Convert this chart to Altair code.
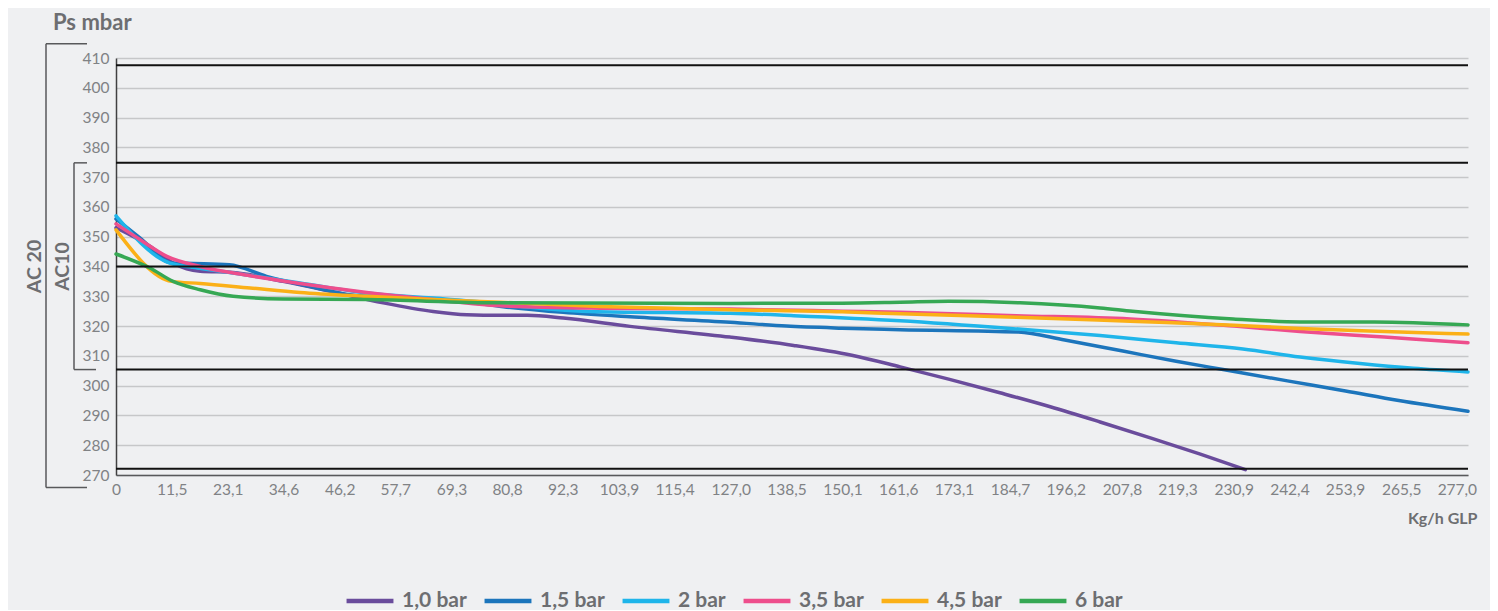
import altair as alt
import pandas as pd

# ---------------- data ----------------
series_names = ["1,0 bar", "1,5 bar", "2 bar", "3,5 bar", "4,5 bar", "6 bar"]
series_colors = ["#6a4c9c", "#1c75bc", "#1fb5ea", "#ee4e8c", "#fbb017", "#36a854"]

x_10 = [0, 7, 11.8, 14.6, 17.4, 24.2, 34.5, 44.8, 55.2, 65.5, 72.5, 79.3, 85, 92.4, 106.2, 126.9, 140, 152, 162, 172, 182.6, 193, 203.3, 214, 224, 233.3]
y_10 = [353, 346.8, 341.2, 339.2, 338.4, 338, 335, 331.5, 327.8, 324.9, 323.8, 323.6, 323.6, 322.7, 319.9, 316.3, 313.5, 310.2, 306.3, 302.2, 297.6, 292.9, 287.8, 282.3, 277, 271.8]

x_15 = [0, 5, 11.5, 16, 23.4, 31.1, 41.5, 48.3, 58, 70, 80, 92.4, 106.2, 126.9, 138.5, 150, 162, 186.4, 196, 208, 219, 228.7, 242, 254, 265, 279.3]
y_15 = [356, 349.5, 341.2, 341, 340.6, 336.7, 332.8, 330.5, 329.5, 328.5, 326.5, 324.6, 323.1, 321.3, 320, 319.3, 318.8, 318, 315.3, 311.6, 308.2, 305.4, 301.6, 298.2, 295, 291.4]

x_2 = [0, 11, 17, 24.2, 38, 51.8, 65.5, 79.3, 85.5, 99.4, 126.9, 140, 162, 186.4, 203.3, 219, 232.8, 244.6, 257, 268, 279.3]
y_2 = [357, 341.2, 339.5, 337.8, 334.5, 331.1, 329.4, 327.5, 326.3, 324.8, 324.3, 323.5, 321.8, 319, 316.8, 314.4, 312.3, 309.6, 307.4, 305.8, 304.6]

x_35 = [0, 5, 10.5, 17.4, 27.7, 38, 51.8, 65.5, 79.3, 100, 126.9, 150, 162, 186, 209.5, 231, 244.6, 262, 279.3]
y_35 = [354.3, 349, 343.4, 340, 336.9, 334.3, 331.3, 328.9, 326.8, 326, 325.7, 325, 324.6, 323.5, 322.4, 320, 318.2, 316.3, 314.4]

x_45 = [0, 11.5, 17.4, 27.7, 38, 51.8, 65.5, 79.3, 100, 126.9, 150, 162, 186, 209.5, 231, 244.6, 262, 279.3]
y_45 = [352.3, 335, 334.3, 332.8, 331.3, 330, 328.9, 328, 326.6, 325.5, 324.8, 324.1, 323, 321.6, 320.3, 319.2, 318.2, 317.3]

x_6 = [0, 7, 11.8, 17.4, 24.2, 34.5, 51.8, 79.3, 127, 150, 162, 172, 186.8, 203.3, 210, 230.8, 244.6, 260, 279.3]
y_6 = [344.2, 339.5, 335, 332.2, 330, 329.1, 328.9, 327.8, 327.6, 327.7, 328, 328.3, 327.8, 326.1, 325, 322.4, 321.4, 321.4, 320.4]

x_ticks = [0, 11.5, 23.1, 34.6, 46.2, 57.7, 69.3, 80.8, 92.3, 103.9, 115.4, 127.0, 138.5,
           150.1, 161.6, 173.1, 184.7, 196.2, 207.8, 219.3, 230.9, 242.4, 253.9, 265.5, 277.0]
y_ticks = [270, 280, 290, 300, 310, 320, 330, 340, 350, 360, 370, 380, 390, 400, 410]
ref_levels = [407.6, 374.8, 340, 305.4, 272.1]
ac20_range = [265.8, 414.8]
ac10_range = [305.4, 374.8]

# ---------------- build table ----------------
all_x = [x_10, x_15, x_2, x_35, x_45, x_6]
all_y = [y_10, y_15, y_2, y_35, y_45, y_6]
rows = []
for name, xs, ys in zip(series_names, all_x, all_y):
    for xv, yv in zip(xs, ys):
        rows.append({"serie": name, "x": xv, "y": yv})
df = pd.DataFrame(rows)

GRAY = "#6d6e71"
LABEL_GRAY = "#808285"
FONT = "Lato"

xscale = alt.Scale(domain=[0, 279.3], nice=False, zero=True)
yscale = alt.Scale(domain=[270, 410], nice=False, zero=False)

y_axis = alt.Axis(values=y_ticks, grid=True, gridColor="#c6c7c9", gridWidth=1.3,
                  ticks=False, labelOverlap=False, labelFont=FONT, labelFontSize=15.5,
                  labelColor=LABEL_GRAY, labelPadding=7, domainColor="#414042",
                  domainWidth=1.5, title=None)

lines = alt.Chart(df).mark_line(
    strokeWidth=3.5, interpolate="monotone", strokeCap="round", strokeJoin="round"
).encode(
    x=alt.X("x:Q", scale=xscale,
            axis=alt.Axis(values=x_ticks, grid=False, ticks=False, labelOverlap=False,
                          labelExpr="datum.value == 0 ? '0' : replace(format(datum.value, '.1f'), '.', ',')",
                          labelFont=FONT, labelFontSize=15.5, labelColor=LABEL_GRAY, labelPadding=7,
                          domainColor="#58595b", domainWidth=1.5,
                          title="Kg/h GLP", titleFont=FONT, titleFontSize=16, titleFontWeight="bold",
                          titleColor=GRAY, titleAnchor="end", titleAlign="right",
                          titleX=1361, titleY=43, titleBaseline="middle", labelFlush=False)),
    y=alt.Y("y:Q", scale=yscale, axis=y_axis),
    color=alt.Color("serie:N", sort=series_names,
                    scale=alt.Scale(domain=series_names, range=series_colors),
                    legend=alt.Legend(title=None, orient="none", legendX=228, legendY=517,
                                      direction="horizontal", columns=6,
                                      symbolType="stroke", symbolSize=2200, symbolStrokeWidth=4.5,
                                      labelFont=FONT, labelFontSize=21, labelFontWeight="bold",
                                      labelColor=GRAY, columnPadding=8, labelOffset=6)),
)

refs = alt.Chart(pd.DataFrame({"level": ref_levels})).mark_rule(
    color="#111111", strokeWidth=2
).encode(y=alt.Y("level:Q", scale=yscale, axis=y_axis))

one = pd.DataFrame({"k": [0]})
BR = "#58595b"


def vseg(xpx, y1, y2):
    return alt.Chart(one).mark_rule(color=BR, strokeWidth=1.5).encode(
        x=alt.value(xpx), y=alt.YDatum(y1, axis=y_axis), y2=alt.datum(y2))


def hseg(x1, x2, yv):
    return alt.Chart(one).mark_rule(color=BR, strokeWidth=1.5).encode(
        x=alt.value(x1), x2=alt.value(x2), y=alt.YDatum(yv, axis=y_axis))


brackets = [
    vseg(-70, ac20_range[0], ac20_range[1]),
    hseg(-70, -29, ac20_range[1]),
    hseg(-70, -29, ac20_range[0]),
    vseg(-42, ac10_range[0], ac10_range[1]),
    hseg(-42, -29, ac10_range[1]),
    hseg(-42, -20, ac10_range[0]),
]

ac20_text = alt.Chart(one).mark_text(
    angle=270, font=FONT, fontSize=19.5, fontWeight="bold", color=GRAY, align="center", baseline="middle"
).encode(x=alt.value(-81), y=alt.YDatum(340, axis=y_axis), text=alt.value("AC 20"))

ac10_text = alt.Chart(one).mark_text(
    angle=270, font=FONT, fontSize=19.5, fontWeight="bold", color=GRAY, align="center", baseline="middle"
).encode(x=alt.value(-53), y=alt.YDatum(340, axis=y_axis), text=alt.value("AC10"))

title_text = alt.Chart(one).mark_text(
    font=FONT, fontSize=22, fontWeight="bold", color=GRAY, align="left", baseline="alphabetic"
).encode(x=alt.value(-63), y=alt.value(-28), text=alt.value("Ps mbar"))

chart = alt.layer(lines, refs, *brackets, ac20_text, ac10_text, title_text).properties(
    width=1352, height=417,
    autosize=alt.AutoSizeParams(type="none"),
    padding={"left": 108, "top": 50, "right": 22, "bottom": 135},
    background="#eff0f2",
).configure_view(stroke=None)

chart.save("out.html", embed_options={"renderer": "svg", "actions": False})
